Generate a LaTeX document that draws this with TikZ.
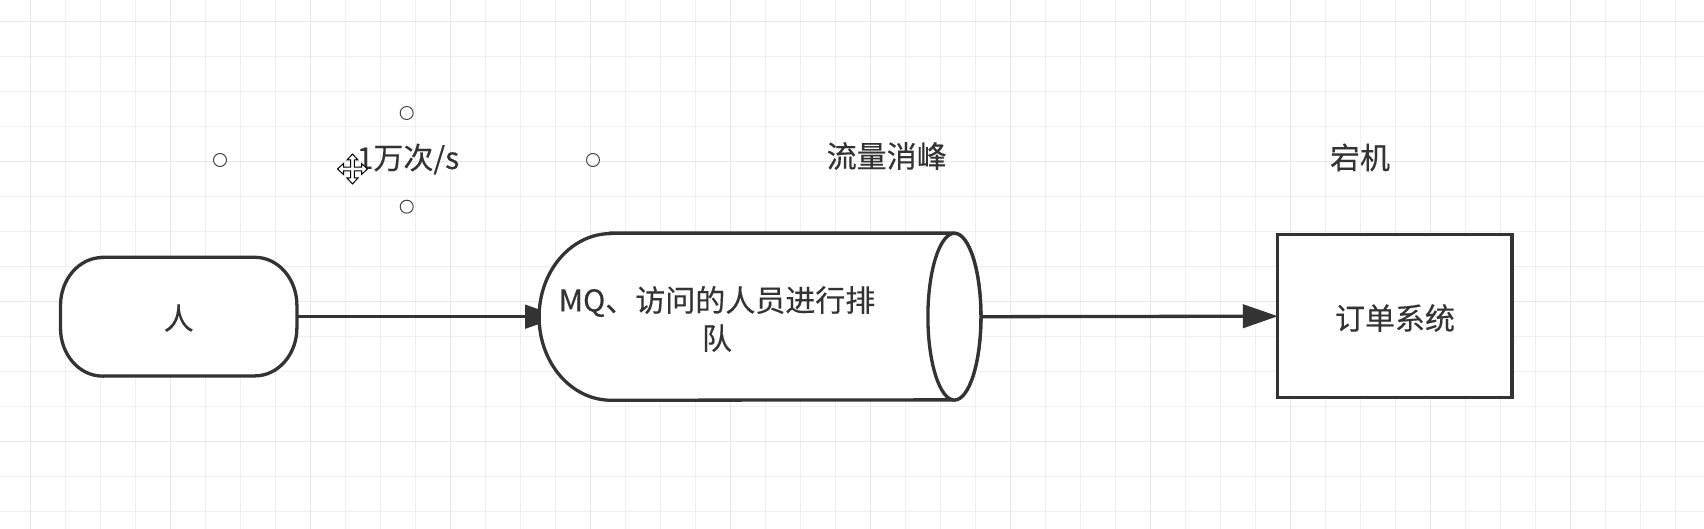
\documentclass[tikz,border=0pt]{standalone}
\usepackage{fontspec}
\newfontfamily\cjk[FakeBold=0.35]{Noto Sans CJK SC}
\usetikzlibrary{arrows.meta,calc}
\definecolor{ink}{HTML}{333333}
\definecolor{gridminor}{HTML}{EFEFEF}
\definecolor{gridmajor}{HTML}{E7E7E7}
\tikzset{
  shapeline/.style={draw=ink, line width=3.3pt, fill=white},
  lbl/.style={text=ink, font=\cjk\fontsize{30}{38}\selectfont, inner sep=0pt},
  arr/.style={draw=ink, line width=3.3pt, -{Triangle[length=35pt,width=23.4pt]}},
  handle/.style={circle, draw=ink!90, fill=white, line width=1pt, minimum size=13pt, inner sep=0pt},
  minorline/.style={draw=gridminor, line width=1pt},
  majorline/.style={draw=gridmajor, line width=1.4pt},
}
\begin{document}
\begin{tikzpicture}[x=1pt,y=-1pt]
\useasboundingbox (0,0) rectangle (1704,529);
\fill[white] (0,0) rectangle (1704,529);
% grid
\foreach \i in {0,...,48} {\draw[minorline] ({30.7+35*\i},0) -- ({30.7+35*\i},529);}
\foreach \j in {0,...,14} {\draw[minorline] (0,{21.7+35*\j}) -- (1704,{21.7+35*\j});}
\foreach \i in {0,...,12} {\draw[majorline] ({30.7+140*\i},0) -- ({30.7+140*\i},529);}
\foreach \j in {0,...,3} {\draw[majorline] (0,{21.7+140*\j}) -- (1704,{21.7+140*\j});}

% nodes
\node[draw=none, minimum width=236pt, minimum height=118.4pt, inner sep=0pt] (ren) at (178.7,316.7) {};
\node[draw=none, minimum width=441.4pt, minimum height=166.7pt, inner sep=0pt] (mq) at (760,316.7) {};
\node[draw=none, minimum width=233.7pt, minimum height=162.3pt, inner sep=0pt] (order) at (1394.8,316.2) {};

% terminator shape for ren
\draw[shapeline] ([xshift=42pt]ren.north west) -- ([xshift=-42pt]ren.north east)
  arc[start angle=90, end angle=0, x radius=42pt, y radius=48pt]
  -- ([yshift=-11.2pt]ren.east)
  arc[start angle=0, end angle=-90, x radius=42pt, y radius=48pt]
  -- ([xshift=42pt]ren.south west)
  arc[start angle=270, end angle=180, x radius=42pt, y radius=48pt]
  -- ([yshift=11.2pt]ren.west)
  arc[start angle=180, end angle=90, x radius=42pt, y radius=48pt] -- cycle;
\node[lbl] (rentext) at (178.7,318) {人};

% connectors
\draw[arr] (ren.east) -- ([xshift=21pt]mq.west);
\draw[arr] ([xshift=-0.5pt]mq.east) -- (order.west);

% cylinder
\draw[shapeline] ([xshift=72pt]mq.north west) -- ([xshift=-26.5pt]mq.north east)
  arc[start angle=90, end angle=-90, x radius=26.5pt, y radius=83.35pt]
  -- ([xshift=72pt]mq.south west)
  arc[start angle=270, end angle=90, x radius=72pt, y radius=83.35pt] -- cycle;
\draw[shapeline] ([xshift=-26.5pt]mq.east) ellipse [x radius=26.5pt, y radius=83.35pt];
\node[lbl, align=center] (mqtext) at (717,319) {MQ、访问的人员进行排\\队};

% order box
\draw[shapeline] (order.north west) rectangle (order.south east);
\node[lbl] (ordertext) at (1395,318) {订单系统};

% labels
\node[lbl] (rate) at (408,159) {1万次/s};
\node[lbl] (peak) at (886.7,156) {流量消峰};
\node[lbl] (down) at (1360,157.5) {宕机};

% selection handles
\node[handle] (h1) at (406.7,113) {};
\node[handle] (h2) at (220,160) {};
\node[handle] (h3) at (593,160) {};
\node[handle] (h4) at (406.7,206.7) {};

% move cursor
\begin{scope}[shift={(352.5,169)}]
\draw[draw=black, fill=white, line width=1pt, line join=miter]
  (0,-15) -- (5.5,-9) -- (1.8,-9) -- (1.8,-1.8) -- (9,-1.8) -- (9,-5.5) -- (15,0)
  -- (9,5.5) -- (9,1.8) -- (1.8,1.8) -- (1.8,9) -- (5.5,9) -- (0,15)
  -- (-5.5,9) -- (-1.8,9) -- (-1.8,1.8) -- (-9,1.8) -- (-9,5.5) -- (-15,0)
  -- (-9,-5.5) -- (-9,-1.8) -- (-1.8,-1.8) -- (-1.8,-9) -- (-5.5,-9) -- cycle;
\end{scope}
\end{tikzpicture}
\end{document}
